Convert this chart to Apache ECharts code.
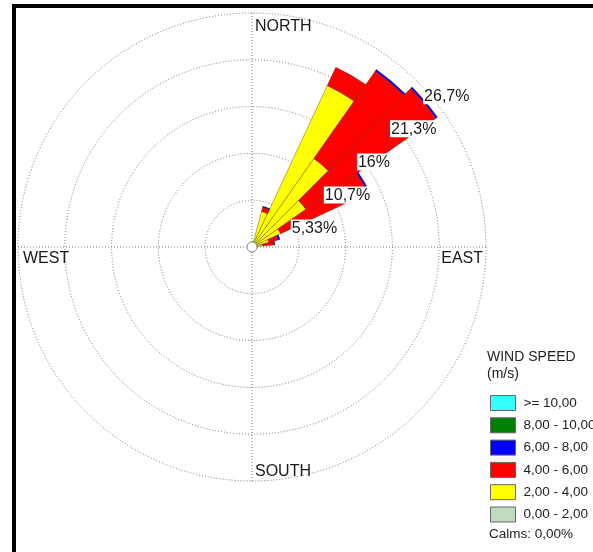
<!DOCTYPE html>
<html>
<head>
<meta charset="utf-8">
<script src="https://cdn.jsdelivr.net/npm/echarts@6/dist/echarts.min.js"></script>
<style>
html,body{margin:0;padding:0;background:#fff;}
#chart{width:593px;height:552px;}
</style>
</head>
<body>
<div id="chart"></div>
<script>
// ---------- data ----------
const directions = ['0','10','20','30','40','50','60','70','80','90','100','110','120','130','140','150','160','170',
  '180','190','200','210','220','230','240','250','260','270','280','290','300','310','320','330','340','350'];
// percentage of time in each direction sector, per speed class
const speed0_2   = [0,0,0,0,0,0,0,0,0,0,0,0,0,0,0,0,0,0,0,0,0,0,0,0,0,0,0,0,0,0,0,0,0,0,0,0];
const speed2_4   = [0,0,4.2,20.3,12.3,7.5,3.6,2.0,1.2,0,0,0,0,0,0,0,0,0,0,0,0,0,0,0,0,0,0,0,0,0,0,0,0,0,0,0];
const speed4_6   = [0,0,0.5,2.3,12.2,18.1,11.0,1.1,1.3,0,0,0,0,0,0,0,0,0,0,0,0,0,0,0,0,0,0,0,0,0,0,0,0,0,0,0];
const speed6_8   = [0,0,0.12,0,0.2,0.2,0.2,0.2,0.12,0,0,0,0,0,0,0,0,0,0,0,0,0,0,0,0,0,0,0,0,0,0,0,0,0,0,0];
const speed8_10  = [0,0,0,0,0,0,0,0,0,0,0,0,0,0,0,0,0,0,0,0,0,0,0,0,0,0,0,0,0,0,0,0,0,0,0,0];
const speed10up  = [0,0,0,0,0,0,0,0,0,0,0,0,0,0,0,0,0,0,0,0,0,0,0,0,0,0,0,0,0,0,0,0,0,0,0,0];
const speedNames = ['0,00 - 2,00','2,00 - 4,00','4,00 - 6,00','6,00 - 8,00','8,00 - 10,00','>= 10,00'];
const speedColors = ['#c0dcc0','#ffff00','#ff0000','#0000ff','#008000','#33ffff'];
const ringLabels = ['5,33%','10,7%','16%','21,3%','26,7%'];
const ringStep = 5.334;
const ringMax = 26.67;
const compass = ['NORTH','EAST','SOUTH','WEST'];
const calmsText = 'Calms: 0,00%';
const legendTitle = 'WIND SPEED\n(m/s)';

// ---------- layout ----------
const CX = 252, CY = 247, R = 234;
const gridLine = {color:'#777', width:1, type:[1,2]};
const font = '"Liberation Sans", Arial, sans-serif';

const seriesData = [speed0_2, speed2_4, speed4_6, speed6_8, speed8_10, speed10up];
const series = seriesData.map((arr, k) => ({
  type:'bar',
  name: speedNames[k],
  coordinateSystem:'polar',
  polarIndex:1,
  stack:'rose',
  barCategoryGap:'0%',
  data: arr.map(v => v === 0 ? null : v),
  itemStyle:{color: speedColors[k], borderColor:'rgba(50,30,0,0.6)', borderWidth:0.6},
  emphasis:{disabled:true},
  silent:true,
  animation:false
}));

const chart = echarts.init(document.getElementById('chart'), null, {renderer:'canvas'});
chart.setOption({
  animation:false,
  backgroundColor:'#fff',
  textStyle:{fontFamily:font},
  polar:[
    {center:[CX,CY], radius:R},
    {center:[CX,CY], radius:R},
    {center:[CX,CY], radius:R}
  ],
  angleAxis:[
    {polarIndex:0, type:'value', min:0, max:360, interval:90, startAngle:90, clockwise:true,
     axisLine:{show:false}, axisTick:{show:false}, axisLabel:{show:false},
     splitLine:{show:true, lineStyle:gridLine}, z:0},
    {polarIndex:1, type:'category', data:directions, startAngle:95, clockwise:true, boundaryGap:true, show:false},
    {polarIndex:2, type:'value', min:0, max:360, startAngle:45, show:false}
  ],
  radiusAxis:[
    {polarIndex:0, type:'value', min:0, max:ringMax, interval:ringStep,
     axisLine:{show:false}, axisTick:{show:false}, axisLabel:{show:false},
     splitLine:{show:true, lineStyle:gridLine}, z:0},
    {polarIndex:1, type:'value', min:0, max:ringMax, show:false},
    {polarIndex:2, type:'value', min:0, max:ringMax, interval:ringStep, z:10,
     axisLine:{show:false}, axisTick:{show:false}, splitLine:{show:false},
     axisLabel:{show:true, showMinLabel:false, margin:-8, align:'left', verticalAlign:'top',
       formatter:(v)=>{const i=Math.round(v/ringStep)-1; return i>=0? ringLabels[i]:'';},
       backgroundColor:'#ffffff', padding:[1,1,0,1], fontSize:16, color:'#1a1a1a', fontFamily:font}}
  ],
  legend:{
    show:true, orient:'vertical', left:490, top:395,
    data: speedNames.slice().reverse(),
    icon:'rect', itemWidth:25, itemHeight:15, itemGap:6.3,
    itemStyle:{borderColor:'#666', borderWidth:1},
    textStyle:{fontSize:13.5, color:'#222', fontFamily:font, lineHeight:15, padding:[0,0,0,3]},
    selectedMode:false, padding:0
  },
  title:[
    {text:legendTitle, left:487, top:349, padding:0,
     textStyle:{fontSize:14, fontWeight:'normal', color:'#222', lineHeight:17, fontFamily:font}},
    {text:calmsText, left:489, top:527, padding:0,
     textStyle:{fontSize:13.5, fontWeight:'normal', color:'#222', fontFamily:font}}
  ],
  graphic:[
    {type:'rect', shape:{x:12, y:4, width:593, height:4}, style:{fill:'#000'}, z:100},
    {type:'rect', shape:{x:12, y:4, width:4, height:560}, style:{fill:'#000'}, z:100},
    {type:'text', x:CX+3, y:CY-R+6, style:{text:compass[0], font:'16px '+font, fill:'#1a1a1a', textAlign:'left', textVerticalAlign:'top'}, z:50},
    {type:'text', x:CX+R-3, y:CY+4, style:{text:compass[1], font:'16px '+font, fill:'#1a1a1a', textAlign:'right', textVerticalAlign:'top'}, z:50},
    {type:'text', x:CX+3, y:CY+R-17, style:{text:compass[2], font:'16px '+font, fill:'#1a1a1a', textAlign:'left', textVerticalAlign:'top'}, z:50},
    {type:'text', x:CX-R+5, y:CY+4, style:{text:compass[3], font:'16px '+font, fill:'#1a1a1a', textAlign:'left', textVerticalAlign:'top'}, z:50},
    {type:'circle', shape:{cx:CX, cy:CY, r:5}, style:{fill:'#fff', stroke:'#888', lineWidth:1}, z:60}
  ],
  series: series
});
</script>
</body>
</html>
